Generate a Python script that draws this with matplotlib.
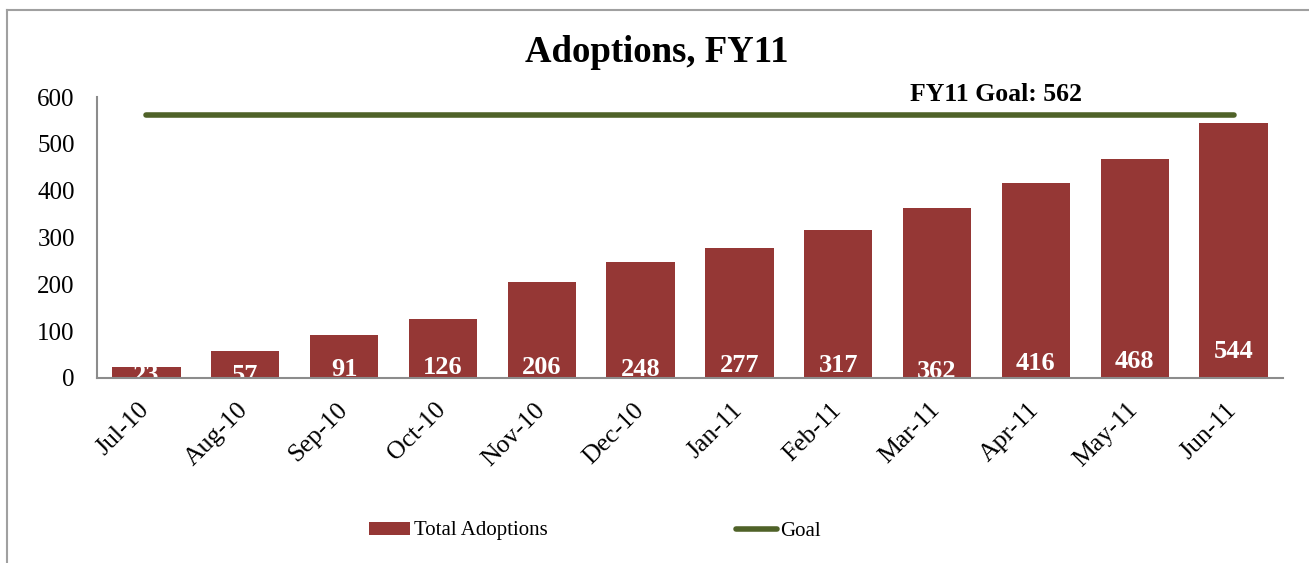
import matplotlib
matplotlib.use("Agg")
import matplotlib.pyplot as plt
import matplotlib.transforms as mtransforms
from matplotlib.lines import Line2D
from matplotlib.patches import Patch

months = ["Jul-10", "Aug-10", "Sep-10", "Oct-10", "Nov-10", "Dec-10",
          "Jan-11", "Feb-11", "Mar-11", "Apr-11", "May-11", "Jun-11"]
adoptions = [23, 57, 91, 126, 206, 248, 277, 317, 362, 416, 468, 544]
goal = [562] * 12
yticks = [0, 100, 200, 300, 400, 500, 600]

# label vertical offsets (pixels above the axis), style only
label_px = [2, 3, 8, 11, 11, 8, 12, 12, 6, 14, 17, 26]

plt.rcParams['font.family'] = ['Liberation Serif', 'DejaVu Serif']

W, H = 1309, 563
fig = plt.figure(figsize=(W / 100, H / 100), dpi=100)
ax = fig.add_axes([97 / W, 1 - 378 / H, (1283 - 97) / W, (378 - 97) / H])

x = list(range(len(months)))
bar_color = "#953735"
goal_color = "#4F6228"

ax.bar(x, adoptions, width=0.69, color=bar_color, zorder=2)
ax.plot(x, goal, color=goal_color, lw=4.0, solid_capstyle="round", zorder=3)

ax.set_xlim(-0.5, len(months) - 0.5)
ax.set_ylim(0, 600)
ax.set_yticks(yticks)
ax.set_yticklabels([str(t) for t in yticks], fontsize=18)
ax.set_xticks(x)
ax.set_xticklabels(months, rotation=45, ha="right", rotation_mode="anchor", fontsize=18.5)
ax.tick_params(axis="y", length=0, pad=16)
ax.tick_params(axis="x", length=0, pad=15)
shift = mtransforms.ScaledTranslation(-8 / 100, 0, fig.dpi_scale_trans)
for lbl in ax.get_xticklabels():
    lbl.set_transform(lbl.get_transform() + shift)

for s in ["top", "right"]:
    ax.spines[s].set_visible(False)
for s in ["left", "bottom"]:
    ax.spines[s].set_color("#8C8C8C")
    ax.spines[s].set_linewidth(1.5)
    ax.spines[s].set_zorder(4)

for xi, v, off in zip(x, adoptions, label_px):
    t = ax.annotate(str(v), (xi, 0), xytext=(0, off * 0.72), textcoords="offset points",
                    ha="center", va="center", color="white", fontsize=19,
                    fontweight="bold", zorder=3, annotation_clip=False)
    t.set_clip_on(True)
    t.set_clip_box(ax.bbox)

ax.text(8.6, 606, "FY11 Goal: %d" % goal[0], ha="center", va="center",
        fontsize=18.5, fontweight="bold", clip_on=False)

fig.text(657 / W, 1 - 53 / H, "Adoptions, FY11", ha="center", va="center",
         fontsize=26.5, fontweight="bold")

handles = [Patch(facecolor=bar_color, edgecolor="none"),
           Line2D([0], [0], color=goal_color, lw=4.0, solid_capstyle="round")]
fig.legend(handles, ["Total Adoptions", "Goal"], loc="center",
           bbox_to_anchor=(595 / W, 1 - 531 / H), ncol=2, frameon=False,
           fontsize=15, handlelength=2.0, handletextpad=0.15,
           columnspacing=9.05, handleheight=0.6)

# outer chart border (top and left visible)
fig.add_artist(Line2D([7 / W, 1.0], [1 - 9.5 / H, 1 - 9.5 / H], color="#A0A0A0", lw=1.5))
fig.add_artist(Line2D([7 / W, 7 / W], [0, 1 - 9.5 / H], color="#A0A0A0", lw=1.5))

fig.savefig("out.png", dpi=100)
